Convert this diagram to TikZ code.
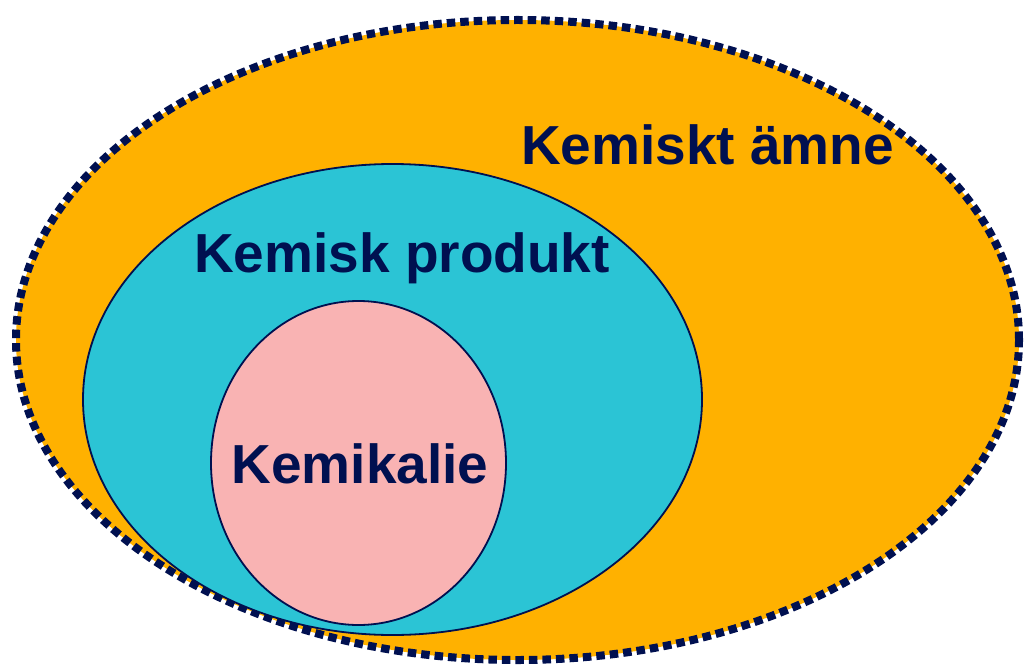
\documentclass[tikz,border=0pt]{standalone}
\usepackage{fontspec}
\setmainfont{Liberation Sans}
\usetikzlibrary{shapes.geometric}
\definecolor{orangefill}{HTML}{FFB100}
\definecolor{cyanfill}{HTML}{2BC4D5}
\definecolor{pinkfill}{HTML}{F9B3B3}
\definecolor{navy}{HTML}{001050}
\tikzset{
  setshape/.style={ellipse, inner sep=0pt, draw=navy},
  setlabel/.style={anchor=base, inner sep=0pt, text=navy, font=\fontsize{55}{60}\selectfont\bfseries}
}
\begin{document}
\begin{tikzpicture}[x=1pt,y=-1pt]
\fill[white] (0,0) rectangle (1024,668);
\useasboundingbox (0,0) rectangle (1024,668);
\node[setshape, fill=orangefill, line width=8pt, dash pattern=on 8.5pt off 5pt,
  minimum width=1003pt, minimum height=640pt] (outer) at (517.5,340) {};
\node[setshape, fill=cyanfill, line width=1.8pt,
  minimum width=619pt, minimum height=471pt] (middle) at (392.5,399.5) {};
\node[setshape, fill=pinkfill, line width=1.8pt,
  minimum width=295pt, minimum height=324pt] (inner) at (358.5,463) {};
\node[setlabel] (lamne) at (707.5,165) {Kemiskt ämne};
\node[setlabel] (lprod) at (402,272) {Kemisk produkt};
\node[setlabel] (lkem) at (360,483) {Kemikalie};
\end{tikzpicture}
\end{document}
